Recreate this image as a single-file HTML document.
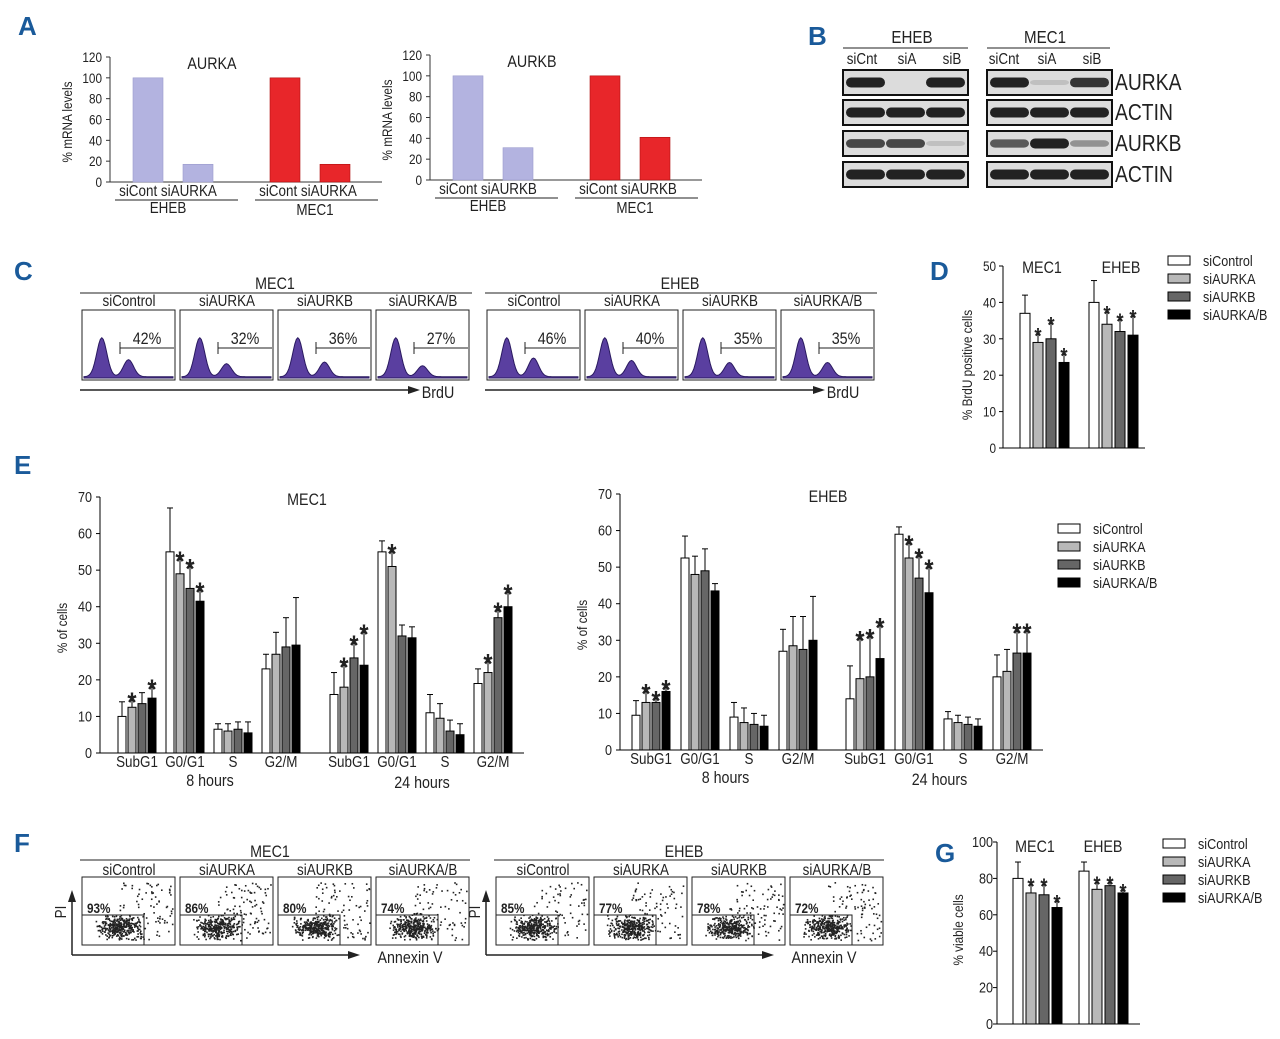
<!DOCTYPE html>
<html><head><meta charset="utf-8"><style>
body{margin:0;background:#fff}
svg text{font-family:"Liberation Sans",sans-serif;fill:#222}
</style></head><body>
<svg id="s" width="1280" height="1034" viewBox="0 0 1280 1034" xmlns="http://www.w3.org/2000/svg">
<g font-weight="bold" font-size="26">
<text x="18" y="35" style="fill:#1a5a9a">A</text><text x="808" y="45" style="fill:#1a5a9a">B</text>
<text x="14" y="280" style="fill:#1a5a9a">C</text><text x="930" y="280" style="fill:#1a5a9a">D</text>
<text x="14" y="474" style="fill:#1a5a9a">E</text><text x="14" y="852" style="fill:#1a5a9a">F</text>
<text x="935" y="862" style="fill:#1a5a9a">G</text></g>
</svg>
<script>
const NS="http://www.w3.org/2000/svg",S=document.getElementById('s');
function el(t,a,p){const e=document.createElementNS(NS,t);for(const k in a)e.setAttribute(k,a[k]);(p||S).appendChild(e);return e;}
function tx(x,y,s,sz,anc,p,rot){const e=el('text',{x:0,y:0,'font-size':sz||14,'text-anchor':anc||'middle'},p);
  e.setAttribute('transform','translate('+x+' '+y+')'+(rot?' rotate(-90)':'')+' scale(0.84 1)');e.textContent=s;return e;}

// ---- Panel A data ----
const aCats=["siCont","siAURKA","siCont","siAURKA"];
const aurkaVals=[100,17,100,17];
const aurkbVals=[100,31,100,41];
const aTicks=[0,20,40,60,80,100,120];
const barColA=["#b3b3e0","#b3b3e0","#e8262a","#e8262a"];
function panelA(ax,y0,title,vals,tname,name){
  const g=el('g',{});
  
  const sc=v=>y0-v*125/120;
  el('line',{x1:ax,y1:y0,x2:ax,y2:sc(120),stroke:'#333'},g);
  el('line',{x1:ax,y1:y0,x2:ax+272,y2:y0,stroke:'#333'},g);
  aTicks.forEach(t=>{el('line',{x1:ax-4,x2:ax,y1:sc(t),y2:sc(t),stroke:'#333'},g);tx(ax-8,sc(t)+5,t,14,'end',g);});
  const xs=[23,73,160,210];
  vals.forEach((v,i)=>{const r=el('rect',{x:ax+xs[i],y:sc(v),width:30,height:v*125/120,fill:barColA[i],stroke:i<2?'#9a9acc':'#b01010','stroke-width':0.6},g);
    });
  tx(ax+102,y0-113,title,17,'middle',g);
  tx(ax+58,y0+14,"siCont "+tname,16,'middle',g);tx(ax+198,y0+14,"siCont "+tname,16,'middle',g);
  el('line',{x1:ax+5,x2:ax+128,y1:y0+18,y2:y0+18,stroke:'#222'},g);el('line',{x1:ax+145,x2:ax+268,y1:y0+18,y2:y0+18,stroke:'#222'},g);
  tx(ax+58,y0+31,"EHEB",16,'middle',g);tx(ax+205,y0+33,"MEC1",16,'middle',g);
  tx(ax-38,y0-60,"% mRNA levels",14,'middle',g,true);
}
panelA(110,182,"AURKA",aurkaVals,"siAURKA","chart-aurka-mrna");
panelA(430,180,"AURKB",aurkbVals,"siAURKB","chart-aurkb-mrna");

// ---- Panel B blots ----
(function(){
  const g=el('g',{});
  tx(912,43,"EHEB",18,'middle',g);tx(1045,43,"MEC1",18,'middle',g);
  el('line',{x1:843,x2:968,y1:48,y2:48,stroke:'#222'},g);el('line',{x1:987,x2:1110,y1:48,y2:48,stroke:'#222'},g);
  [[862,"siCnt"],[907,"siA"],[952,"siB"],[1004,"siCnt"],[1047,"siA"],[1092,"siB"]].forEach(c=>tx(c[0],64,c[1],16,'middle',g));
  const rows=[[70,"AURKA",[1,0,1],[1,0.15,0.9]],[100,"ACTIN",[1,1,1],[1,1,1]],[131,"AURKB",[0.8,0.8,0.15],[0.7,1,0.4]],[162,"ACTIN",[1,1,1],[1,1,1]]];
  rows.forEach(r=>{
    [[843,r[2]],[987,r[3]]].forEach(b=>{
      el('rect',{x:b[0],y:r[0],width:125,height:25,fill:'#dcdcdc',stroke:'#111','stroke-width':2},g);
      b[1].forEach((v,i)=>{if(v>0)el('rect',{x:b[0]+3+i*40,y:r[0]+12.5-(2+3*v),width:39,height:2*(2+3*v),rx:5,fill:'#222','fill-opacity':v},g);});
    });
    tx(1115,r[0]+20,r[1],23,'start',g);
  });
})();

// ---- Panel C histograms ----
const cMecPct=["42%","32%","36%","27%"],cEhebPct=["46%","40%","35%","35%"];
const cLabels=["siControl","siAURKA","siAURKB","siAURKA/B"];
function hist(x,y,w,h,r,g){
  let d="M"+x+","+(y+h-2);
  for(let i=0;i<=60;i++){const t=i/60;const v=Math.exp(-Math.pow((t-0.2)/0.08,2))*0.6+Math.exp(-Math.pow((t-0.5)/0.08,2))*0.25*r+0.02;d+=" L"+(x+t*w)+","+(y+h-2-v*h);}
  d+=" L"+(x+w)+","+(y+h-2)+"Z";el('path',{d:d,fill:'#5a3fa0',stroke:'#2a1a60'},g);
}
function panelC(x0,title,pcts,name){
  const g=el('g',{});
  tx(x0+195,289,title,17,'middle',g);el('line',{x1:x0,x2:x0+392,y1:293,y2:293,stroke:'#222'},g);
  for(let i=0;i<4;i++){const bx=x0+2+i*98;
    tx(bx+47,306,cLabels[i],16,'middle',g);
    el('rect',{x:bx,y:310,width:93,height:70,fill:'#fff',stroke:'#222'},g);
    hist(bx+2,315,89,65,parseInt(pcts[i])/40,g);
    el('line',{x1:bx+38,x2:bx+92,y1:348,y2:348,stroke:'#222'},g);el('line',{x1:bx+38,x2:bx+38,y1:342,y2:354,stroke:'#222'},g);
    tx(bx+65,344,pcts[i],17,'middle',g);}
  el('line',{x1:x0,x2:x0+330,y1:390,y2:390,stroke:'#222','stroke-width':1.5},g);
  el('path',{d:`M${x0+340},390 l-12,-4 v8z`,fill:'#222'},g);
  tx(x0+358,398,"BrdU",17,'middle',g);
}
panelC(80,"MEC1",cMecPct,"brdu-histograms-mec1");
panelC(485,"EHEB",cEhebPct,"brdu-histograms-eheb");

// ---- Generic grouped bar chart ----
const fills=["#ffffff","#b8b8b8","#666666","#000000"];
function groupBars(g,xs,vals,errs,stars,sc,bw,step){
  vals.forEach((grp,gi)=>grp.forEach((v,bi)=>{
    const x=xs(gi)+bi*step;
    const r=el('rect',{x:x,y:sc(v),width:bw,height:sc(0)-sc(v),fill:fills[bi],stroke:'#000','stroke-width':1},g);
    
    const e=errs[gi][bi];const xc=x+bw/2;
    el('line',{x1:xc,x2:xc,y1:sc(v),y2:sc(v+e),stroke:'#000'},g);el('line',{x1:xc-3,x2:xc+3,y1:sc(v+e),y2:sc(v+e),stroke:'#000'},g);
    if(stars[gi][bi]){const t=tx(xc,sc(v+e)+(bw>9?12:15),"*",bw>9?22:28,'middle',g);t.setAttribute('font-weight','bold');}
  }));
}
function legend(x,y,gap,fs,name){
  const g=el('g',{});
  ["siControl","siAURKA","siAURKB","siAURKA/B"].forEach((l,i)=>{el('rect',{x:x,y:y+i*gap,width:22,height:9,fill:fills[i],stroke:'#000'},g);tx(x+35,y+i*gap+10,l,fs,'start',g);});
}

// ---- Panel D data ----
const dCats=["MEC1","EHEB"];
const dVals=[[37,29,30,23.5],[40,34,32,31]];
const dErrs=[[5,3,5,3],[6,4,4,6]];
const dStars=[[0,1,1,1],[0,1,1,1]];
const dTicks=[0,10,20,30,40,50];
(function(){
  const g=el('g',{});
  const y0=448,sc=v=>y0-v*182/50;
  el('line',{x1:1003,x2:1003,y1:y0,y2:sc(50),stroke:'#000'},g);el('line',{x1:1003,x2:1145,y1:y0,y2:y0,stroke:'#000'},g);
  dTicks.forEach(t=>{el('line',{x1:999,x2:1003,y1:sc(t),y2:sc(t),stroke:'#000'},g);tx(996,sc(t)+5,t,14,'end',g);});
  groupBars(g,i=>1020+i*69,dVals,dErrs,dStars,sc,10,13);
  dCats.forEach((c,i)=>tx(1042+i*79,273,c,17,'middle',g));
  tx(972,365,"% BrdU positive cells",14,'middle',g,true);
})();
legend(1168,256,18,15,'legend-brdu');

// ---- Panel E data ----
const eCats=["SubG1","G0/G1","S","G2/M","SubG1","G0/G1","S","G2/M"];
const eTicks=[0,10,20,30,40,50,60,70];
const eMecVals=[[10,12.5,13.5,15],[55,49,45,41.5],[6.5,6,6.5,5.5],[23,27,29,29.5],[16,18,26,24],[55,51,32,31.5],[11,9.5,6,5],[19,22,37,40]];
const eMecErrs=[[4,3,3,4],[12,5,7,4],[1.5,2,2,3],[4,6,8,13],[6,7,5,10],[3,5,3,3],[5,4,3,3],[4,4,3,5]];
const eMecStars=[[0,1,0,1],[0,1,1,1],[0,0,0,0],[0,0,0,0],[0,1,1,1],[0,1,0,0],[0,0,0,0],[0,1,1,1]];
const eEhebVals=[[9.5,13,13,16],[52.5,48,49,43.5],[9,7.5,7,6.5],[27,28.5,27.5,30],[14,19.5,20,25],[59,52.5,47,43],[8.5,7.5,7,6.5],[20,21.5,26.5,26.5]];
const eEhebErrs=[[4,4,2,2],[6,5,6,2],[4,4,3,3],[6,8,9,12],[9,12,12,10],[2,5,7,8],[2,2,2,2],[6,6,7,7]];
const eEhebStars=[[0,1,1,1],[0,0,0,0],[0,0,0,0],[0,0,0,0],[0,1,1,1],[0,1,1,1],[0,0,0,0],[0,0,1,1]];
function panelE(ax,y0,top,xstart,gsp,gap,title,tx0,vals,errs,stars,name){
  const g=el('g',{});
  const sc=v=>y0-v*(y0-top)/70,xs=i=>xstart+i*gsp+(i>=4?gap:0);
  el('line',{x1:ax,x2:ax,y1:y0,y2:top,stroke:'#000'},g);el('line',{x1:ax,x2:xs(7)+50,y1:y0,y2:y0,stroke:'#000'},g);
  eTicks.forEach(t=>{el('line',{x1:ax-4,x2:ax,y1:sc(t),y2:sc(t),stroke:'#000'},g);tx(ax-8,sc(t)+5,t,15,'end',g);});
  groupBars(g,xs,vals,errs,stars,sc,8,10);
  eCats.forEach((c,i)=>tx(xs(i)+19,y0+14,c,16,'middle',g));
  tx((xs(0)+xs(3))/2+20,y0+33,"8 hours",17,'middle',g);tx((xs(4)+xs(7))/2+20,y0+35,"24 hours",17,'middle',g);
  tx(tx0,top+8,title,17,'middle',g);
  tx(ax-33,y0-125,"% of cells",14,'middle',g,true);
}
panelE(100,753,497,118,48,20,"MEC1",307,eMecVals,eMecErrs,eMecStars,"chart-cell-cycle-mec1");
panelE(620,750,494,632,49,18,"EHEB",828,eEhebVals,eEhebErrs,eEhebStars,"chart-cell-cycle-eheb");
legend(1058,524,18,15,'legend-cell-cycle');

// ---- Panel F scatter ----
const fMecPct=["93%","86%","80%","74%"],fEhebPct=["85%","77%","78%","72%"];
function scatter(bx,by,w,h,g,seed){
  let s=seed;const rnd=()=>{s=(s*9301+49297)%233280;return s/233280;};
  for(let i=0;i<420;i++){const a=rnd(),b=rnd(),c=rnd();let x,y;
    if(c<0.8){x=bx+12+(a+rnd())/2*50;y=by+h-5-(b+rnd())/2*26;}else{x=bx+w*0.4+a*w*0.58;y=by+5+b*(h-10);}
    el('rect',{x:x,y:y,width:1.6,height:1.6,fill:'#222'},g);}
}
function panelF(x0,title,pcts,name,ax){
  const g=el('g',{});
  tx(x0+190,857,title,17,'middle',g);el('line',{x1:x0,x2:x0+390,y1:860,y2:860,stroke:'#222'},g);
  for(let i=0;i<4;i++){const bx=x0+2+i*98;
    tx(bx+47,875,cLabels[i],16,'middle',g);
    el('rect',{x:bx,y:877,width:93,height:68,fill:'#fff',stroke:'#222'},g);
    scatter(bx,877,93,68,g,i*37+x0);
    el('rect',{x:bx,y:915,width:62,height:30,fill:'none',stroke:'#222'},g);
    const t=tx(bx+5,913,pcts[i],14,'start',g);t.setAttribute('font-weight','bold');}
  el('line',{x1:ax,x2:ax,y1:955,y2:900,stroke:'#222','stroke-width':1.5},g);el('path',{d:`M${ax},890 l-4,12 h8z`,fill:'#222'},g);
  tx(ax-6,912,"PI",16,'middle',g,true);
  el('line',{x1:ax,x2:x0+270,y1:955,y2:955,stroke:'#222','stroke-width':1.5},g);el('path',{d:`M${x0+280},955 l-12,-4 v8z`,fill:'#222'},g);
  tx(x0+330,963,"Annexin V",17,'middle',g);
}
panelF(80,"MEC1",fMecPct,"annexin-plots-mec1",72);
panelF(494,"EHEB",fEhebPct,"annexin-plots-eheb",486);

// ---- Panel G data ----
const gCats=["MEC1","EHEB"];
const gVals=[[80,72,71,64],[84,74,76,72]];
const gErrs=[[9,6,7,5],[5,5,3,3]];
const gStars=[[0,1,1,1],[0,1,1,1]];
const gTicks=[0,20,40,60,80,100];
(function(){
  const g=el('g',{});
  const y0=1024,sc=v=>y0-v*182/100;
  el('line',{x1:997,x2:997,y1:y0,y2:sc(100),stroke:'#000'},g);el('line',{x1:997,x2:1140,y1:y0,y2:y0,stroke:'#000'},g);
  gTicks.forEach(t=>{el('line',{x1:993,x2:997,y1:sc(t),y2:sc(t),stroke:'#000'},g);tx(993,sc(t)+5,t,15,'end',g);});
  groupBars(g,i=>1013+i*66,gVals,gErrs,gStars,sc,10,13);
  gCats.forEach((c,i)=>tx(1035+i*68,852,c,17,'middle',g));
  tx(963,930,"% viable cells",14,'middle',g,true);
})();
legend(1163,839,18,15,'legend-viable');
</script>
</body></html>
